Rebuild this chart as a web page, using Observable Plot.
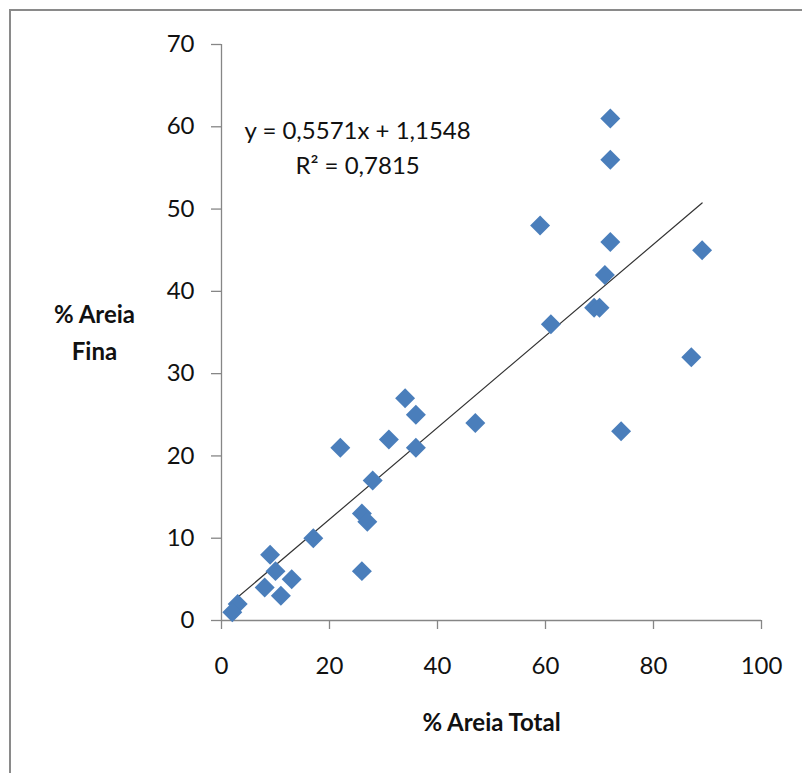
<!DOCTYPE html>
<html>
<head>
<meta charset="utf-8">
<script src="https://cdn.jsdelivr.net/npm/d3@7"></script>
<script src="https://cdn.jsdelivr.net/npm/@observablehq/plot@0.6"></script>
<style>
  html, body { margin: 0; padding: 0; background: #fff; }
  #wrap { position: relative; width: 802px; height: 773px; overflow: hidden; }
  #frame { position: absolute; left: 9px; top: 9px; right: -20px; bottom: -20px;
           border-left: 2.5px solid #8a8a8a; border-top: 2.5px solid #8a8a8a; }
  #chart { position: absolute; left: 0; top: 0; }
</style>
</head>
<body>
<div id="wrap"><div id="frame"></div><div id="chart"></div></div>
<script>
// % total sand vs % fine sand per sample
const areiaTotal = [72, 72, 59, 72, 89, 71, 69, 70, 61, 87, 34, 36, 47, 74, 31, 22, 36, 28, 26, 27, 17, 9, 10, 26, 13, 8, 11, 3, 2];
const areiaFina  = [61, 56, 48, 46, 45, 42, 38, 38, 36, 32, 27, 25, 24, 23, 22, 21, 21, 17, 13, 12, 10, 8, 6, 6, 5, 4, 3, 2, 1];

// linear trendline as reported
const slope = 0.5571;
const intercept = 1.1548;
const r2 = 0.7815;

const xTicks = [0, 20, 40, 60, 80, 100];
const yTicks = [0, 10, 20, 30, 40, 50, 60, 70];

const xTitle = "% Areia Total";
const yTitle = "% Areia\nFina";

const points = areiaTotal.map((x, i) => ({x, y: areiaFina[i]}));
const [xMin, xMax] = d3.extent(areiaTotal);
const trend = [xMin, xMax].map(x => ({x, y: slope * x + intercept}));

const fmt = v => String(v).replace(".", ",");
const equation = `y = ${fmt(slope)}x + ${fmt(intercept)}\nR² = ${fmt(r2)}`;

const axisColor = "#868686";
const blue = "#4a7ebb";

const chart = Plot.plot({
  width: 802,
  height: 773,
  marginLeft: 221,
  marginRight: 41,
  marginTop: 44,
  marginBottom: 153,
  style: { fontFamily: "Lato, sans-serif", background: "transparent", color: "#111" },
  x: { domain: [0, 100] },
  y: { domain: [0, 70] },
  marks: [
    Plot.ruleY([0], { stroke: axisColor, strokeWidth: 1.3 }),
    Plot.ruleX([0], { stroke: axisColor, strokeWidth: 1.3 }),
    Plot.axisY({ ticks: yTicks, tickSize: 10, tickPadding: 17, stroke: axisColor, strokeWidth: 1.3, strokeOpacity: 1, fontSize: 24, label: null, fill: "#111" }),
    Plot.axisX({ ticks: xTicks, tickSize: 9, tickPadding: 27, stroke: axisColor, strokeWidth: 1.3, strokeOpacity: 1, fontSize: 24, label: null, fill: "#111" }),
    Plot.line(trend, { x: "x", y: "y", stroke: "#333", strokeWidth: 1.2 }),
    Plot.dot(points, { x: "x", y: "y", symbol: "diamond2", r: 9, fill: blue, stroke: "none" }),
    Plot.text([equation], { x: 25.2, y: 57.7, fontSize: 24, lineHeight: 1.46, textAnchor: "middle", lineAnchor: "middle", fill: "#111" }),
    Plot.text([yTitle], { frameAnchor: "left", dx: -127, dy: -3, fontSize: 24, fontWeight: "bold", lineHeight: 1.55, textAnchor: "middle", lineAnchor: "middle", fill: "#111" }),
    Plot.text([xTitle], { frameAnchor: "bottom", dy: 103, fontSize: 24, fontWeight: "bold", textAnchor: "middle", lineAnchor: "middle", fill: "#111" })
  ]
});
document.getElementById("chart").appendChild(chart);
</script>
</body>
</html>
